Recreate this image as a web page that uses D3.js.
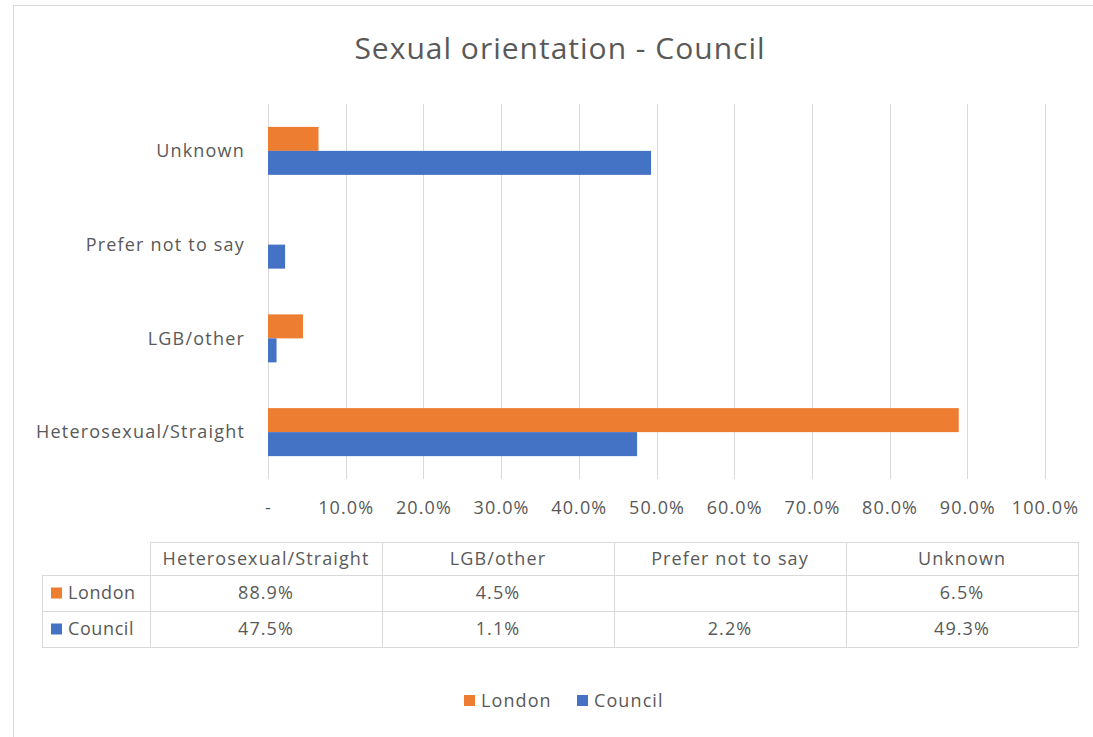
<!DOCTYPE html>
<html><head><meta charset="utf-8">
<script src="https://cdn.jsdelivr.net/npm/d3@7"></script>
<style>
html,body{margin:0;padding:0;background:#fff;}
svg text{font-family:"Open Sans","Noto Sans",sans-serif;fill:#595959;}
</style></head>
<body><svg id="c" width="1093" height="737"></svg>
<script>
const categories = ["Heterosexual/Straight", "LGB/other", "Prefer not to say", "Unknown"];
const seriesNames = ["London", "Council"];
const londonValues = [0.889, 0.045, null, 0.065];
const councilValues = [0.475, 0.011, 0.022, 0.493];
const tickValues = [0, 0.1, 0.2, 0.3, 0.4, 0.5, 0.6, 0.7, 0.8, 0.9, 1.0];
const colors = {London: "#ED7D31", Council: "#4472C4"};
const title = "Sexual orientation - Council";

const svg = d3.select("#c");
// outer border
svg.append("rect").attr("x", 13.5).attr("y", 5.5).attr("width", 1090).attr("height", 740)
  .attr("fill", "none").attr("stroke", "#d9d9d9");

svg.append("text").attr("x", 560).attr("y", 59).attr("text-anchor", "middle")
  .style("font-size", "30px").style("letter-spacing", "1px").text(title);

const x = d3.scaleLinear().domain([0, 1]).range([268, 1045]);
const y = d3.scaleBand().domain(categories.slice().reverse()).range([104, 479]).padding(0);
const y1 = d3.scaleBand().domain(seriesNames).range([y.bandwidth()*0.244, y.bandwidth()*0.756]);

// gridlines
svg.append("g").selectAll("line").data(tickValues).join("line")
  .attr("x1", d => Math.round(x(d)) + 0.5).attr("x2", d => Math.round(x(d)) + 0.5)
  .attr("y1", 104).attr("y2", 479).attr("stroke", "#d9d9d9").attr("stroke-width", 1);

const series = {London: londonValues, Council: councilValues};
seriesNames.forEach(s => {
  svg.append("g").selectAll("rect").data(categories.map((c, i) => ({c, v: series[s][i]})).filter(d => d.v != null))
    .join("rect")
    .attr("x", x(0)).attr("y", d => y(d.c) + y1(s))
    .attr("width", d => x(d.v) - x(0)).attr("height", y1.bandwidth())
    .attr("fill", colors[s]);
});

// category labels
svg.append("g").selectAll("text").data(categories).join("text")
  .attr("x", 245).attr("y", d => y(d) + y.bandwidth()/2).attr("dy", "0.35em")
  .attr("text-anchor", "end").style("font-size", "18px").style("letter-spacing", "1.2px").text(d => d);

// x axis tick labels
const fmt = d => d === 0 ? "-" : d3.format(".1%")(d);
const xAxis = d3.axisBottom(x).tickValues(tickValues).tickFormat(fmt).tickSize(0).tickPadding(0);
const gx = svg.append("g").attr("transform", "translate(0,501)").call(xAxis);
gx.select(".domain").remove();
gx.selectAll("text").style("font-size", "18px").style("letter-spacing", "1.1px").attr("fill", "#595959")
  .style("font-family", "\"Open Sans\",sans-serif");

// data table
const colX = [42, 150].concat(categories.map((c, i) => 150 + (i + 1) * 232));
const rowY = [542, 575, 611, 647];
const tg = svg.append("g").style("font-size", "18px").style("letter-spacing", "1.1px");
// horizontal lines
tg.selectAll("line.h").data(rowY).join("line").attr("class", "h")
  .attr("x1", (d, i) => i === 0 ? 150 : 42).attr("x2", 1078)
  .attr("y1", d => d + 0.5).attr("y2", d => d + 0.5).attr("stroke", "#d9d9d9");
// vertical lines
tg.selectAll("line.v").data(colX).join("line").attr("class", "v")
  .attr("x1", d => d + 0.5).attr("x2", d => d + 0.5)
  .attr("y1", (d, i) => i === 0 ? rowY[1] : rowY[0]).attr("y2", rowY[3])
  .attr("stroke", "#d9d9d9");
// header
tg.selectAll("text.hd").data(categories).join("text").attr("class", "hd")
  .attr("x", (d, i) => 150 + i * 232 + 116).attr("y", (rowY[0] + rowY[1]) / 2).attr("dy", "0.35em")
  .attr("text-anchor", "middle").text(d => d);
const pct = d3.format(".1%");
seriesNames.forEach((s, r) => {
  const cy = (rowY[r + 1] + rowY[r + 2]) / 2;
  tg.append("rect").attr("x", 51).attr("y", cy - 5.5).attr("width", 11).attr("height", 11).attr("fill", colors[s]);
  tg.append("text").attr("x", 68).attr("y", cy).attr("dy", "0.35em").style("letter-spacing", "0.6px").text(s);
  tg.append("g").selectAll("text").data(series[s]).join("text")
    .attr("x", (d, i) => 150 + i * 232 + 116).attr("y", cy).attr("dy", "0.35em")
    .attr("text-anchor", "middle").text(d => d == null ? "" : pct(d));
});

// legend
const lg = svg.append("g");
const legX = [464, 577];
seriesNames.forEach((s, i) => {
  lg.append("rect").attr("x", legX[i]).attr("y", 695).attr("width", 11).attr("height", 11).attr("fill", colors[s]);
  lg.append("text").attr("x", legX[i] + 17).attr("y", 700.5).attr("dy", "0.35em")
    .style("font-size", "18px").style("letter-spacing", "1.1px").text(s);
});
</script></body></html>
